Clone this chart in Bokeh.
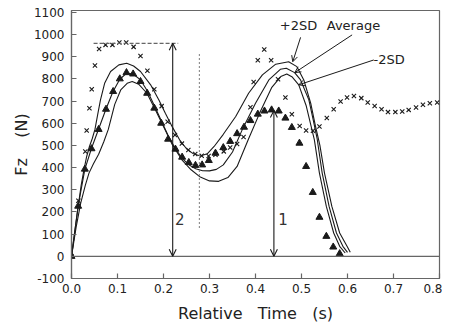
from bokeh.plotting import figure
from bokeh.models import Range1d, FixedTicker, PrintfTickFormatter, Arrow, OpenHead, Span, Label
from bokeh.embed import file_html
from bokeh.resources import INLINE

# ---------------- data ----------------
x_ticks = [0.0, 0.1, 0.2, 0.3, 0.4, 0.5, 0.6, 0.7, 0.8]
y_ticks = [-100, 0, 100, 200, 300, 400, 500, 600, 700, 800, 900, 1000, 1100]

plus_x = [0.000, 0.007, 0.015, 0.021, 0.027, 0.033, 0.039, 0.045, 0.051, 0.057, 0.063, 0.072, 0.085,
          0.103, 0.120, 0.135, 0.150, 0.172, 0.190, 0.204, 0.220, 0.235, 0.250, 0.265, 0.280, 0.295,
          0.310, 0.330, 0.357, 0.385, 0.415, 0.444, 0.472, 0.490, 0.505, 0.520, 0.530, 0.540, 0.550,
          0.566, 0.583, 0.599, 0.606]
plus_y = [0, 110, 232, 320, 390, 450, 495, 530, 572, 640, 705, 780, 833,
          863, 870, 858, 833, 773, 705, 645, 580, 525, 485, 462, 452, 462,
          495, 550, 630, 735, 818, 866, 877, 855, 795, 690, 590, 500, 375,
          225, 105, 45, 18]

avg_x = [0.000, 0.0145, 0.029, 0.0435, 0.059, 0.075, 0.090, 0.105, 0.120, 0.134, 0.150, 0.165, 0.180,
         0.195, 0.210, 0.225, 0.240, 0.255, 0.270, 0.285, 0.300, 0.315, 0.330, 0.350, 0.371, 0.400,
         0.429, 0.454, 0.467, 0.485, 0.498, 0.516, 0.525, 0.534, 0.545, 0.560, 0.576, 0.590, 0.600]
avg_y = [0, 228, 392, 487, 574, 664, 742, 798, 826, 822, 795, 745, 680,
         612, 545, 488, 443, 413, 395, 386, 385, 392, 412, 470, 570, 690,
         795, 843, 848, 828, 795, 705, 620, 530, 375, 225, 105, 45, 18]

minus_x = [0.000, 0.010, 0.020, 0.030, 0.038, 0.048, 0.059, 0.070, 0.080, 0.094, 0.107, 0.121, 0.132,
           0.146, 0.164, 0.182, 0.200, 0.220, 0.240, 0.260, 0.280, 0.300, 0.320, 0.340, 0.360, 0.385,
           0.410, 0.435, 0.455, 0.468, 0.480, 0.494, 0.510, 0.528, 0.539, 0.554, 0.570, 0.583, 0.595]
minus_y = [0, 130, 240, 320, 375, 418, 460, 515, 572, 685, 750, 780, 788,
           776, 735, 662, 585, 500, 435, 390, 357, 340, 338, 355, 405, 530,
           650, 760, 810, 822, 808, 773, 680, 525, 375, 225, 105, 45, 15]

tri_x = [0.000, 0.0145, 0.029, 0.0435, 0.059, 0.075, 0.0905, 0.105, 0.1195, 0.134, 0.150, 0.1645, 0.180,
         0.195, 0.210, 0.226, 0.2405, 0.255, 0.2695, 0.284, 0.2985, 0.313, 0.330, 0.345, 0.360, 0.375,
         0.389, 0.405, 0.4195, 0.435, 0.4505, 0.465, 0.479, 0.4955, 0.510, 0.5245, 0.539, 0.554, 0.569, 0.583]
tri_y = [0, 226, 393, 485, 572, 663, 743, 800, 828, 822, 788, 735, 668,
         600, 528, 483, 447, 423, 410, 412, 432, 465, 490, 518, 553, 582,
         612, 641, 655, 660, 655, 623, 581, 510, 405, 288, 176, 90, 42, 12]

crs_x = [0.000, 0.015, 0.030, 0.033, 0.039, 0.044, 0.051, 0.060, 0.074, 0.089, 0.104, 0.119, 0.135,
         0.150, 0.165, 0.180, 0.196, 0.209, 0.225, 0.240, 0.254, 0.269, 0.283, 0.298, 0.313, 0.331,
         0.345, 0.360, 0.374, 0.389, 0.396, 0.405, 0.419, 0.434, 0.449, 0.465, 0.479, 0.496, 0.510,
         0.525, 0.539, 0.555, 0.570, 0.585, 0.599, 0.614, 0.630, 0.644, 0.659, 0.674, 0.688, 0.704,
         0.719, 0.733, 0.749, 0.764, 0.779, 0.795]
crs_y = [0, 250, 472, 567, 667, 753, 860, 934, 953, 953, 964, 964, 944,
         903, 836, 753, 677, 607, 547, 508, 479, 461, 453, 452, 458, 473,
         490, 506, 538, 672, 786, 884, 932, 884, 798, 716, 640, 587, 567,
         566, 585, 623, 663, 698, 716, 723, 713, 693, 678, 663, 650, 650,
         653, 660, 671, 683, 690, 693]

# annotation anchors (data units)
peak_level = 960
dash_x = [0.048, 0.232]
arrow2_x = 0.22
arrow1_x = 0.44
arrow1_top = 657
dotted_x = 0.278
dotted_y = [128, 915]

INK = "#1a1a1a"
GREY = "#666666"
FONT = "DejaVu Sans"

p = figure(width=442, height=326, x_range=Range1d(0, 0.8), y_range=Range1d(-100, 1108),
           output_backend="svg", toolbar_location=None,
           min_border_left=71, min_border_right=3, min_border_top=10, min_border_bottom=48)
p.xgrid.visible = False
p.ygrid.visible = False
p.outline_line_color = GREY
p.outline_line_width = 1.2

for ax in (p.xaxis[0], p.yaxis[0]):
    ax.axis_line_color = GREY
    ax.axis_line_width = 1.2
    ax.major_tick_line_color = GREY
    ax.major_tick_line_width = 1.2
    ax.major_tick_in = 5
    ax.major_tick_out = 0
    ax.minor_tick_line_color = None
    ax.major_label_text_font = FONT
    ax.major_label_text_font_size = "12px"
    ax.major_label_text_color = "#222222"
    ax.axis_label_text_font = FONT
    ax.axis_label_text_font_size = "16px"
    ax.axis_label_text_font_style = "normal"
    ax.axis_label_text_color = "#222222"

p.xaxis.ticker = FixedTicker(ticks=x_ticks)
p.xaxis.formatter = PrintfTickFormatter(format="%.1f")
p.yaxis.ticker = FixedTicker(ticks=y_ticks)
p.yaxis.formatter = PrintfTickFormatter(format="%d")
p.xaxis.axis_label = "Relative\u00a0\u00a0\u00a0Time\u00a0\u00a0\u00a0(s)"
p.yaxis.axis_label = "Fz\u00a0\u00a0\u00a0\u00a0(N)"
p.xaxis.major_label_standoff = 5
p.yaxis.major_label_standoff = 7
p.xaxis.axis_label_standoff = 8
p.yaxis.axis_label_standoff = 0

p.add_layout(Span(location=0, dimension="width", line_color=GREY, line_width=1.3))

# curves
for xs, ys in ((plus_x, plus_y), (avg_x, avg_y), (minus_x, minus_y)):
    p.line(xs, ys, line_color=INK, line_width=1.1)

# markers
p.scatter(tri_x, tri_y, marker="triangle", size=7, fill_color=INK, line_color=INK)
p.scatter(crs_x, crs_y, marker="x", size=6, line_color=INK, line_width=1.1)

# dashed peak line and dotted vertical
p.line(dash_x, [peak_level, peak_level], line_color=GREY, line_dash="4 2", line_width=1.1)
p.line([dotted_x, dotted_x], dotted_y, line_color="#888888", line_dash="2 2", line_width=1.1)

# double arrows
p.add_layout(Arrow(start=OpenHead(size=7, line_color=INK, line_width=1.1),
                   end=OpenHead(size=7, line_color=INK, line_width=1.1),
                   x_start=arrow2_x, y_start=0, x_end=arrow2_x, y_end=peak_level,
                   line_color=INK, line_width=1.1))
p.add_layout(Arrow(start=OpenHead(size=7, line_color=INK, line_width=1.1),
                   end=OpenHead(size=7, line_color=INK, line_width=1.1),
                   x_start=arrow1_x, y_start=0, x_end=arrow1_x, y_end=arrow1_top,
                   line_color=INK, line_width=1.1))

p.add_layout(Label(x=0.2352, y=168, text="2", text_font=FONT, text_font_size="15px",
                   text_color="#333333", text_align="center", text_baseline="middle"))
p.add_layout(Label(x=0.46, y=168, text="1", text_font=FONT, text_font_size="15px",
                   text_color="#333333", text_align="center", text_baseline="middle"))

# legend-like labels with arrows
lab = [("+2SD", 0.4935, 1039, "center", 0.498, 987, 0.481, 877),
       ("Average", 0.613, 1039, "center", 0.610, 998, 0.4854, 828),
       ("-2SD", 0.6565, 885, "left", 0.657, 885, 0.494, 773)]
for t, tx, ty, al, xs0, ys0, xe, ye in lab:
    p.add_layout(Label(x=tx, y=ty, text=t, text_font=FONT, text_font_size="13px",
                       text_color="#222222", text_align=al, text_baseline="middle"))
    p.add_layout(Arrow(end=OpenHead(size=6, line_color=INK, line_width=1),
                       x_start=xs0, y_start=ys0, x_end=xe, y_end=ye,
                       line_color=INK, line_width=1))

open("out.html", "w").write(file_html(p, INLINE))
